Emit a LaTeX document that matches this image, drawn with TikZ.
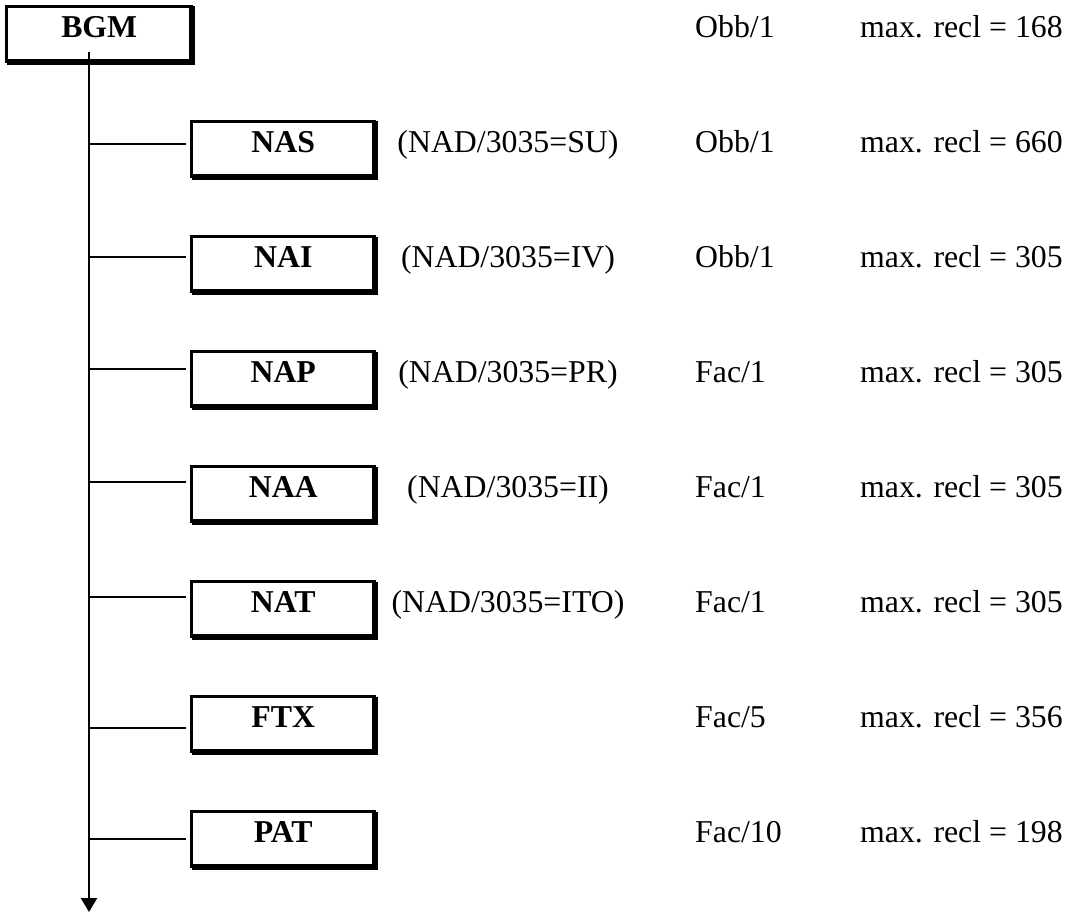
\documentclass[tikz,border=0pt]{standalone}
\usepackage{fontspec}
\setmainfont{Liberation Serif}
\usetikzlibrary{arrows.meta,positioning}
\tikzset{
  blk/.style={draw, line width=2.5pt, inner sep=0pt, outer sep=0pt,
    minimum width=183.5pt, minimum height=55.5pt, anchor=north west,
    text height=21pt, text depth=14.5pt,
    font=\fontsize{31.8}{38}\selectfont\bfseries},
  rim/.style={line width=6pt},
  txt/.style={font=\fontsize{31.8}{38}\selectfont, inner sep=0pt},
  branch/.style={line width=1.8pt, shorten >=5.5pt},
}

\begin{document}
\begin{tikzpicture}[x=1pt,y=-1pt]
	\useasboundingbox (0,0) rectangle (1067,912);
	% boxes
	\node[blk, minimum width=185.5pt] (bgm) at (6.5,6.5) {BGM};
	\foreach \r/\t/\top in {nas/NAS/120, nai/NAI/235, nap/NAP/350, naa/NAA/465, nat/NAT/580, ftx/FTX/695, pat/PAT/810}
		\node[blk] (\r) at (191.5,\top+1.5) {\t};
	\foreach \r in {bgm,nas,nai,nap,naa,nat,ftx,pat}
		\draw[rim] (\r.north east) -- (\r.south east) -- (\r.south west);
	% trunk and branches
	\coordinate (trunk) at (89,52);
	\coordinate (tip) at (89,912);
	\draw[line width=2.2pt,-{Triangle[width=16pt,length=14pt]}] (trunk) -- (tip);
	\foreach \r/\ly in {nas/144, nai/257, nap/369, naa/482, nat/597, ftx/728, pat/839}
		\draw[branch] (trunk |- 0,\ly) -- (\r.west |- 0,\ly);
	% texts
	\foreach \r/\c in {nas/SU, nai/IV, nap/PR, naa/II, nat/ITO}
		\node[txt, anchor=base] (m\r) at (\r.base -| 508,0) {(NAD/3035=\c)};
	\foreach \r/\k/\n/\v in {bgm/Obb/1/168, nas/Obb/1/660, nai/Obb/1/305, nap/Fac/1/305, naa/Fac/1/305, nat/Fac/1/305, ftx/Fac/5/356, pat/Fac/10/198}{
		\node[txt, anchor=base west] (k\r) at (\r.base -| 695,0) {\k/\n};
		\node[txt, anchor=base west] (v\r) at (\r.base -| 860,0) {max. recl = \v};
	}
\end{tikzpicture}
\end{document}
